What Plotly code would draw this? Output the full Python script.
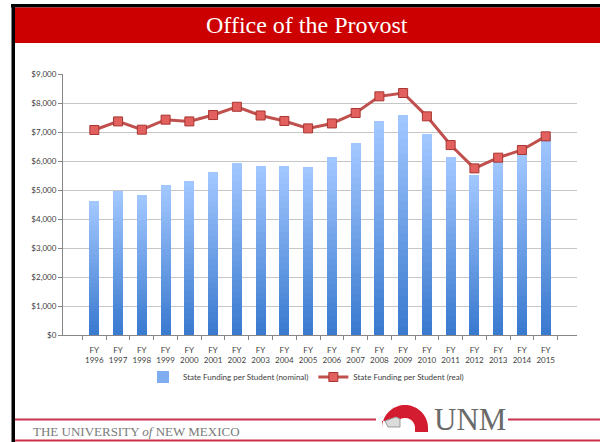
import math
import plotly.graph_objects as go

# ---------------- data ----------------
years = [1996, 1997, 1998, 1999, 2000, 2001, 2002, 2003, 2004, 2005,
         2006, 2007, 2008, 2009, 2010, 2011, 2012, 2013, 2014, 2015]
nominal = [4605, 4950, 4830, 5170, 5310, 5620, 5930, 5830, 5830, 5790,
           6140, 6620, 7365, 7585, 6915, 6140, 5530, 6040, 6330, 6900]
real = [7070, 7365, 7080, 7425, 7365, 7585, 7870, 7570, 7380, 7125,
        7295, 7655, 8230, 8345, 7540, 6550, 5745, 6115, 6380, 6850]
categories = ["FY<br>%d" % y for y in years]
nominal_name = "State Funding per Student (nominal)"
real_name = "State Funding per Student (real)"
title_text = "Office of the Provost"
footer_text = "THE UNIVERSITY <i>of</i> NEW MEXICO"
logo_text = "UNM"

# ---------------- geometry helpers ----------------
W, H = 600, 442
ML, MR, MT, MB = 63, 23, 74, 107
PW = W - ML - MR
PH = H - MT - MB


def px(x):
    return (x - ML) / PW


def py(y):
    return (H - MB - y) / PH


def hex2rgb(h):
    h = h.lstrip("#")
    return tuple(int(h[i:i + 2], 16) for i in (0, 2, 4))


def mix(c1, c2, t):
    a, b = hex2rgb(c1), hex2rgb(c2)
    return "rgb(%d,%d,%d)" % tuple(round(a[i] + (b[i] - a[i]) * t) for i in range(3))


fig = go.Figure()

# gradient bars: stacked slices of each bar
N = 28
bottom_col, top_col = "#3a7acf", "#a2c7ff"
for k in range(N):
    t = k / (N - 1)
    fig.add_trace(go.Bar(
        x=categories, y=[v / N for v in nominal],
        marker=dict(color=mix(bottom_col, top_col, t), line=dict(width=0)),
        name=nominal_name, showlegend=(k == N * 2 // 3), legendrank=1,
        legendgroup="nom", hoverinfo="skip",
    ))

fig.add_trace(go.Scatter(
    x=categories, y=real, mode="lines+markers", name=real_name,
    line=dict(color="#c0504d", width=3),
    marker=dict(symbol="square", size=9, color="#e2615e",
                line=dict(color="#a83532", width=1)),
    legendrank=2,
))

shapes = []
# outer frame / banner
shapes.append(dict(type="rect", xref="paper", yref="paper", layer="above",
                   x0=px(11), x1=px(600), y0=py(4), y1=py(7.5),
                   fillcolor="#000000", line=dict(width=0)))
shapes.append(dict(type="rect", xref="paper", yref="paper", layer="above",
                   x0=px(15), x1=px(600), y0=py(7.5), y1=py(43),
                   fillcolor="#cc0000", line=dict(width=0)))
shapes.append(dict(type="rect", xref="paper", yref="paper", layer="above",
                   x0=px(11.5), x1=px(15), y0=py(4), y1=py(442),
                   fillcolor="#000000", line=dict(width=0)))
# footer lines
for (xa, xb) in [(15, 376), (508, 600)]:
    shapes.append(dict(type="line", xref="paper", yref="paper", layer="above",
                       x0=px(xa), x1=px(xb), y0=py(419.5), y1=py(419.5),
                       line=dict(color="#c8324a", width=2)))
shapes.append(dict(type="line", xref="paper", yref="paper", layer="above",
                   x0=px(15), x1=px(600), y0=py(440.5), y1=py(440.5),
                   line=dict(color="#c8324a", width=2)))

# UNM arch logo (decoration)
cx, cy, ro, ri = 405, 428, 23, 10
pts = []
for i in range(0, 37):
    a = math.pi * i / 36
    pts.append((cx - ro * math.cos(a), cy - ro * math.sin(a)))
pts.append((cx + ro, 432))
pts.append((cx + ri, 432))
for i in range(36, -1, -1):
    a = math.pi * i / 36
    pts.append((cx - ri * math.cos(a), cy - ri * math.sin(a)))
pts.append((cx - ri, 421))
pts.append((cx - ro, 421))
path = "M " + " L ".join("%.5f,%.5f" % (px(x), py(y)) for x, y in pts) + " Z"
shapes.append(dict(type="path", xref="paper", yref="paper", layer="above",
                   path=path, fillcolor="#d41c30", line=dict(width=0)))
bld = [(385, 421), (396, 417), (400, 419), (400, 427), (388, 427)]
path2 = "M " + " L ".join("%.5f,%.5f" % (px(x), py(y)) for x, y in bld) + " Z"
shapes.append(dict(type="path", xref="paper", yref="paper", layer="above",
                   path=path2, fillcolor="#dcdcdc", line=dict(color="#9a9a9a", width=1)))

annotations = [
    dict(text=title_text, xref="paper", yref="paper", x=px(307), y=py(25),
         xanchor="center", yanchor="middle", showarrow=False,
         font=dict(family="Liberation Serif", size=24, color="#ffffff")),
    dict(text=footer_text, xref="paper", yref="paper", x=px(31), y=py(431),
         xanchor="left", yanchor="middle", showarrow=False,
         font=dict(family="Liberation Serif", size=13, color="#7a7a7a")),
    dict(text=logo_text, xref="paper", yref="paper", x=px(470), y=py(419),
         xanchor="center", yanchor="middle", showarrow=False,
         font=dict(family="Liberation Serif", size=31, color="#6a6a6a")),
]

fig.update_layout(
    width=W, height=H,
    margin=dict(l=ML, r=MR, t=MT, b=MB, pad=0),
    paper_bgcolor="#ffffff", plot_bgcolor="#ffffff",
    barmode="stack", bargap=0.58,
    font=dict(family="Lato, Liberation Sans, sans-serif", size=8, color="#404040"),
    showlegend=True,
    legend=dict(orientation="h", x=px(306), y=py(377), xanchor="center",
                yanchor="middle", font=dict(size=8, color="#404040"),
                itemwidth=30, bgcolor="rgba(0,0,0,0)"),
    shapes=shapes, annotations=annotations,
)
fig.update_yaxes(range=[0, 9000], dtick=1000, tickformat="$,.0f",
                 showgrid=True, gridcolor="#c6c6c6", gridwidth=1,
                 showline=True, linecolor="#868686", linewidth=1,
                 ticks="outside", ticklen=4, tickcolor="#868686",
                 tickfont=dict(size=8, color="#404040"), zeroline=False)
fig.update_xaxes(showline=True, linecolor="#868686", linewidth=1,
                 ticks="outside", tickson="boundaries", ticklen=4,
                 tickcolor="#868686", showgrid=False, tickangle=0,
                 ticklabelstandoff=7,
                 tickfont=dict(size=8, color="#404040"))

fig.write_html("out.html",
               config={"displayModeBar": False},
               post_script="document.body.style.margin='0';"
                           "document.body.style.overflow='hidden';")
